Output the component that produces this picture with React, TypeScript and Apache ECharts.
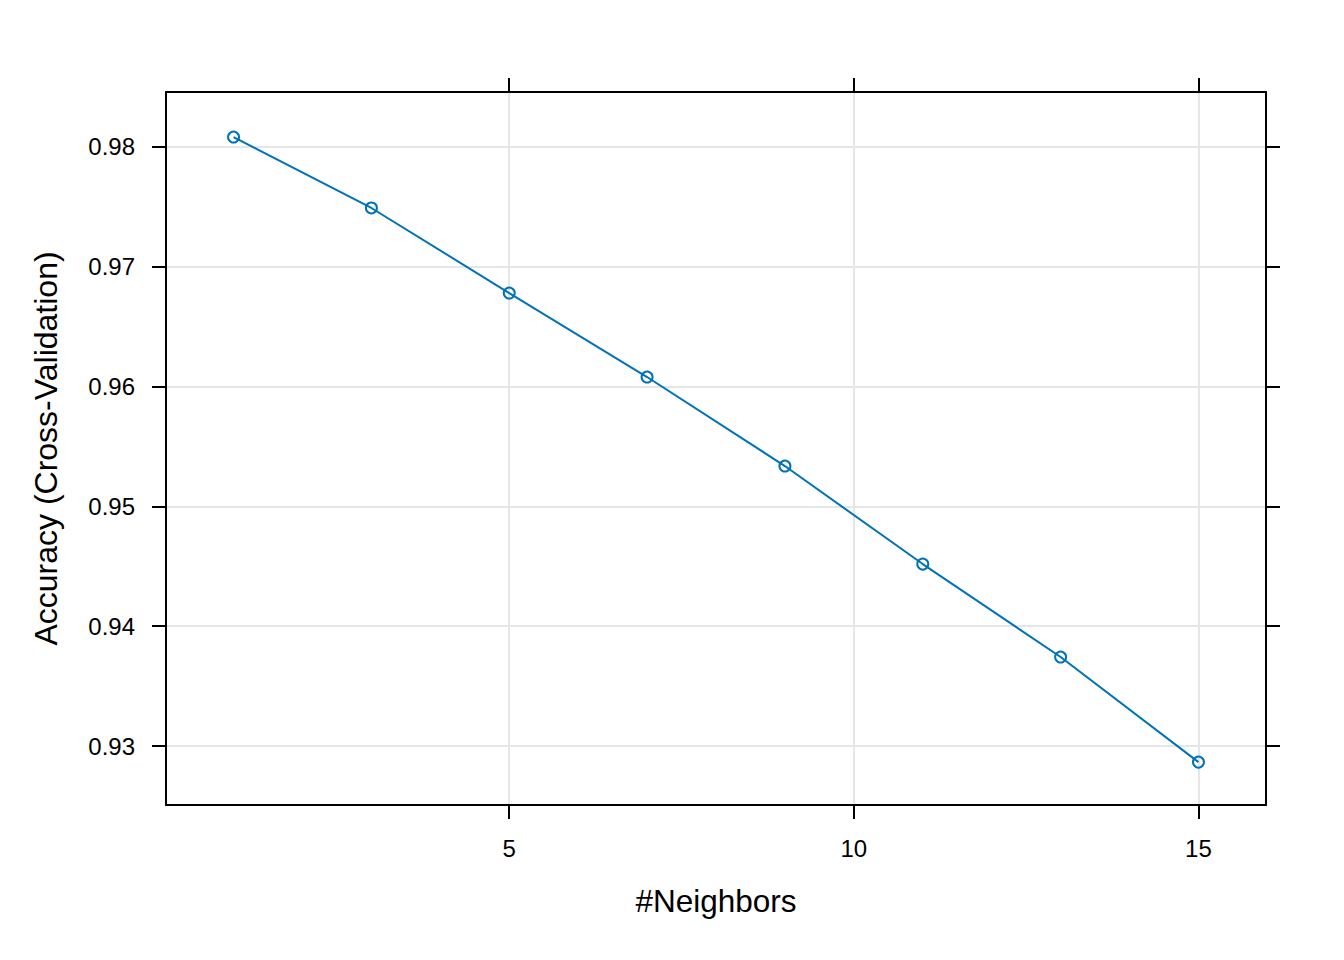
import React, { useEffect, useRef } from "react";
import * as echarts from "echarts";

const neighbors = [1, 3, 5, 7, 9, 11, 13, 15];
const accuracy = [0.98083, 0.97491, 0.96781, 0.9608, 0.95337, 0.94519, 0.93743, 0.92866];
const xTicks = [5, 10, 15];
const yTicks = [0.93, 0.94, 0.95, 0.96, 0.97, 0.98];

const FONT = "'Liberation Sans', Arial, sans-serif";
const BLUE = "#0072B8";

export default function App() {
  const ref = useRef<HTMLDivElement>(null);
  useEffect(() => {
    const chart = echarts.init(ref.current!, null, { renderer: "svg" });
    const axisLine = { show: true, onZero: false, lineStyle: { color: "#000", width: 2 } };
    const tick = (vals: number[]) => ({
      show: true,
      inside: false,
      length: 14,
      customValues: vals,
      lineStyle: { color: "#000", width: 2 },
    });
    const split = { show: true, lineStyle: { color: "#e6e6e6", width: 2 } };
    chart.setOption({
      animation: false,
      backgroundColor: "#fff",
      grid: { left: 166, top: 92, width: 1100, height: 713, containLabel: false },
      xAxis: [
        {
          type: "value",
          position: "bottom",
          min: 0.02,
          max: 15.98,
          axisLine,
          axisTick: tick(xTicks),
          splitLine: split,
          axisLabel: {
            show: true,
            customValues: xTicks,
            margin: 31,
            fontSize: 24,
            color: "#000",
            fontFamily: FONT,
          },
          name: "#Neighbors",
          nameLocation: "middle",
          nameGap: 80,
          nameTextStyle: { fontSize: 31.5, color: "#000", fontFamily: FONT },
        },
        {
          type: "value",
          position: "top",
          min: 0.02,
          max: 15.98,
          axisLine,
          axisTick: tick(xTicks),
          splitLine: { show: false },
          axisLabel: { show: false },
        },
      ],
      yAxis: [
        {
          type: "value",
          position: "left",
          min: 0.92508,
          max: 0.98459,
          axisLine,
          axisTick: tick(yTicks),
          splitLine: split,
          axisLabel: {
            show: true,
            customValues: yTicks,
            margin: 31,
            fontSize: 24,
            color: "#000",
            fontFamily: FONT,
            formatter: (v: number) => v.toFixed(2),
          },
          name: "Accuracy (Cross-Validation)",
          nameLocation: "middle",
          nameGap: 104,
          nameTextStyle: { fontSize: 32, color: "#000", fontFamily: FONT },
        },
        {
          type: "value",
          position: "right",
          min: 0.92508,
          max: 0.98459,
          axisLine,
          axisTick: tick(yTicks),
          splitLine: { show: false },
          axisLabel: { show: false },
        },
      ],
      series: [
        {
          type: "line",
          data: neighbors.map((n, i) => [n, accuracy[i]]),
          xAxisIndex: 0,
          yAxisIndex: 0,
          symbol: "circle",
          symbolSize: 11,
          showSymbol: true,
          lineStyle: { color: BLUE, width: 2 },
          itemStyle: { color: "transparent", borderColor: BLUE, borderWidth: 2 },
          z: 5,
        },
      ],
    });
    return () => chart.dispose();
  }, []);
  return (
    <div
      ref={ref}
      style={{ position: "absolute", left: 0, top: 0, width: 1344, height: 960 }}
    />
  );
}
